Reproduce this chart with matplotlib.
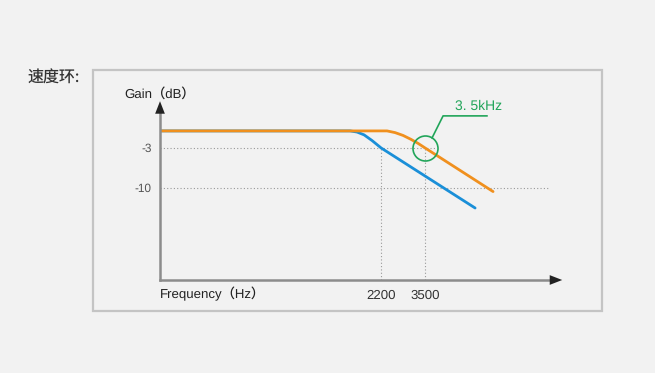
import matplotlib
matplotlib.use("Agg")
import matplotlib.pyplot as plt
from matplotlib.patches import Rectangle

plt.rcParams['font.family'] = ['Liberation Sans', 'Noto Sans CJK SC', 'DejaVu Sans']
plt.rcParams['text.hinting'] = 'no_hinting'

# frequency response curves (Hz, dB)
blue_freq = [213, 1586, 1707, 1839, 2000, 2200, 5940]
blue_gain = [0.0, 0.0, -0.2, -0.7, -1.7, -3.0, -13.6]
orange_freq = [213, 2343, 2551, 2776, 3021, 3252, 3500, 7180]
orange_gain = [0.0, 0.0, -0.3, -0.8, -1.5, -2.2, -3.0, -10.7]

ref_levels = [-3, -10]
ref_ends = [3890, 13100]
ref_freqs = [2200, 3500]
marker_freq = 3500
marker_label = "3. 5kHz"
# leader line from circle to label: (Hz, dB)
leader_x = [3770, 4235, 6730]
leader_y = [-1.23, 2.65, 2.65]

title = "速度环:"
ylabel = "Gain（dB）"
xlabel = "Frequency（Hz）"

bg = "#f2f2f2"
orange = "#f0901e"
blue = "#1a8fd8"
green = "#22a55a"

fig = plt.figure(figsize=(6.55, 3.73), dpi=100, facecolor=bg)

# grey frame
fig.patches.append(Rectangle((93 / 655, 1 - 311 / 373), 509 / 655, 241 / 373,
                             transform=fig.transFigure, facecolor="none",
                             edgecolor="#c4c4c4", lw=1.6, zorder=-1))
fig.text(28 / 655, 1 - 78 / 373, title, fontsize=11.5, color="#333333",
         va="center", ha="left", family=['Noto Sans CJK SC', 'DejaVu Sans'])

ax = fig.add_axes([160 / 655, 1 - 280 / 373, 405 / 655, 178 / 373])
ax.set_zorder(2)
ax.set_facecolor("none")
ax.set_xscale("log")
ax.set_xlim(213, 15350)
ax.set_ylim(-26.3, 5.1)
for s in ax.spines.values():
    s.set_visible(False)

# reference lines
for lvl, end in zip(ref_levels, ref_ends):
    ax.plot([213, end], [lvl, lvl], ls=(0, (1, 2)), color="#999999", lw=0.8)
for f in ref_freqs:
    ax.plot([f, f], [-26.3, -3], ls=(0, (1, 2)), color="#999999", lw=0.8)

ax.plot(blue_freq, blue_gain, color=blue, lw=2, solid_capstyle="round",
        solid_joinstyle="round")
ax.plot(orange_freq, orange_gain, color=orange, lw=2, solid_capstyle="round",
        solid_joinstyle="round")

# highlight circle + label
ax.plot([marker_freq], [-3], marker="o", ms=18, mfc="none", mec=green, mew=1.2)
ax.plot(leader_x, leader_y, color=green, lw=1.2)
ax.text(4807, 4.4, marker_label, color=green, fontsize=10, va="center", ha="left")

# axes with arrows
ax.annotate("", xy=(0, 1.02), xytext=(0, 0), xycoords="axes fraction",
            arrowprops=dict(arrowstyle="-|>,head_length=0.9,head_width=0.35",
                            color="#222222", lw=0))
ax.plot([0, 0], [0, 0.95], transform=ax.transAxes, color="#8c8c8c", lw=1.8, clip_on=False)
ax.annotate("", xy=(1.0, 0), xytext=(0, 0), xycoords="axes fraction",
            arrowprops=dict(arrowstyle="-|>,head_length=0.9,head_width=0.35",
                            color="#222222", lw=0))
ax.plot([0, 0.975], [0, 0], transform=ax.transAxes, color="#8c8c8c", lw=1.8, clip_on=False)

ax.set_yticks(ref_levels)
ax.set_yticklabels([str(v) for v in ref_levels])
ax.set_xticks(ref_freqs)
ax.set_xticklabels([str(v) for v in ref_freqs])
ax.xaxis.set_minor_locator(matplotlib.ticker.NullLocator())
ax.tick_params(axis="y", length=0, pad=6, labelsize=8.5, labelcolor="#555555")
ax.tick_params(axis="x", length=0, pad=7, labelsize=9.5, labelcolor="#333333")

fig.text(160 / 655, 1 - 294 / 373, xlabel, fontsize=9.5, color="#222222",
         va="center", ha="left")
fig.text(160 / 655, 1 - 94 / 373, ylabel, fontsize=9.5, color="#222222",
         va="center", ha="center")

fig.savefig("out.png", dpi=100, facecolor=bg)
